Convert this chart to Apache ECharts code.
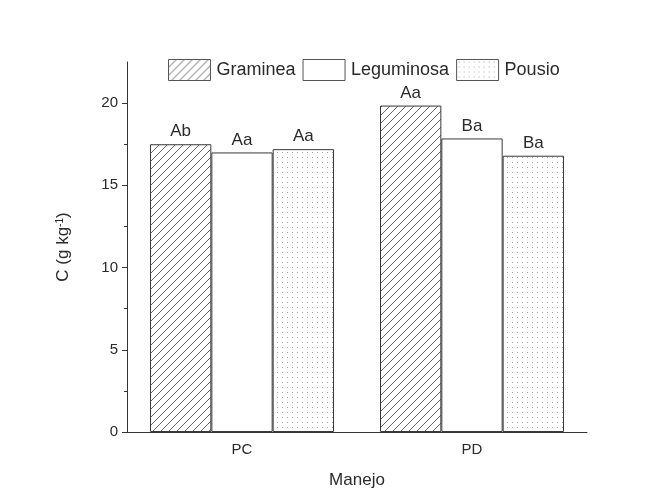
<!DOCTYPE html>
<html>
<head>
<meta charset="utf-8">
<script src="https://cdn.jsdelivr.net/npm/echarts@6/dist/echarts.min.js"></script>
<style>
  html, body { margin: 0; padding: 0; background: #fff; }
  #chart { width: 667px; height: 494px; }
</style>
</head>
<body>
<div id="chart"></div>
<script>
// Carbon content by management system and cover crop
const categories = ['PC', 'PD'];
const seriesNames = ['Graminea', 'Leguminosa', 'Pousio'];
const graminea = [17.5, 19.85];
const leguminosa = [17.0, 17.85];
const pousio = [17.2, 16.8];
const letters = {
  Graminea: ['Ab', 'Aa'],
  Leguminosa: ['Aa', 'Ba'],
  Pousio: ['Aa', 'Ba']
};
const majorTicks = [0, 5, 10, 15, 20];
const minorTicks = [2.5, 7.5, 12.5, 17.5];

// Fill patterns: diagonal hatch and a fine dot grid
function hatchPattern() {
  const c = document.createElement('canvas');
  c.width = 8; c.height = 8;
  const g = c.getContext('2d');
  g.fillStyle = '#fff';
  g.fillRect(0, 0, 8, 8);
  g.strokeStyle = '#6a6a6a';
  g.lineWidth = 1;
  g.beginPath();
  g.moveTo(-1, 9); g.lineTo(9, -1);
  g.moveTo(-1, 1); g.lineTo(1, -1);
  g.moveTo(7, 9); g.lineTo(9, 7);
  g.stroke();
  return c;
}
function dotPattern() {
  const c = document.createElement('canvas');
  c.width = 5; c.height = 5;
  const g = c.getContext('2d');
  g.fillStyle = '#fff';
  g.fillRect(0, 0, 5, 5);
  g.fillStyle = '#a8a8a8';
  g.fillRect(2, 2, 1, 1);
  return c;
}

const fills = {
  Graminea: { image: hatchPattern(), repeat: 'repeat' },
  Leguminosa: '#ffffff',
  Pousio: { image: dotPattern(), repeat: 'repeat' }
};
const values = { Graminea: graminea, Leguminosa: leguminosa, Pousio: pousio };

const font = '"Liberation Sans", Arial, sans-serif';
const ink = '#2a2a2a';

const chart = echarts.init(document.getElementById('chart'));
chart.setOption({
  animation: false,
  textStyle: { fontFamily: font },
  grid: { left: 127, right: 80, top: 62, bottom: 62 },
  legend: {
    left: 163, top: 54,
    icon: 'rect',
    itemWidth: 42, itemHeight: 21, itemGap: 7,
    itemStyle: { borderColor: '#555', borderWidth: 1 },
    textStyle: { fontSize: 18, color: ink, fontFamily: font, padding: [0, 0, 0, 1] },
    data: seriesNames
  },
  xAxis: [{
    type: 'category',
    data: categories,
    name: 'Manejo',
    nameLocation: 'middle',
    nameGap: 40,
    nameTextStyle: { fontSize: 17, color: ink },
    axisLine: { lineStyle: { color: '#333', width: 1 } },
    axisTick: { alignWithLabel: true, length: 5, lineStyle: { color: '#333' } },
    axisLabel: { fontSize: 15, color: ink, margin: 10 }
  }, {
    type: 'category',
    data: categories,
    position: 'bottom',
    axisLine: { show: false },
    axisTick: { length: 2, lineStyle: { color: '#333' } },
    axisLabel: { show: false }
  }],
  yAxis: [{
    type: 'value',
    min: 0, max: 22.5, interval: 2.5,
    name: 'C (g kg{sup|-1})',
    nameLocation: 'middle',
    nameRotate: 90,
    nameGap: 55,
    nameTextStyle: {
      fontSize: 17, color: ink,
      rich: { sup: { fontSize: 10, verticalAlign: 'top', padding: [0, 0, 7, 0], color: ink } }
    },
    splitLine: { show: false },
    axisLine: { show: true, lineStyle: { color: '#333', width: 1 } },
    axisTick: { show: true, length: 5, customValues: majorTicks, lineStyle: { color: '#333' } },
    axisLabel: { fontSize: 15, color: ink, margin: 9, customValues: majorTicks }
  }, {
    type: 'value',
    min: 0, max: 22.5, interval: 2.5,
    position: 'left',
    splitLine: { show: false },
    axisLine: { show: false },
    axisTick: { show: true, length: 3, customValues: minorTicks, lineStyle: { color: '#333' } },
    axisLabel: { show: false }
  }],
  series: seriesNames.map(name => ({
    name: name,
    type: 'bar',
    xAxisIndex: 0,
    yAxisIndex: 0,
    barGap: '0%',
    barCategoryGap: '20%',
    data: values[name],
    itemStyle: { color: fills[name], borderColor: '#3a3a3a', borderWidth: 1 },
    label: {
      show: true,
      position: 'top',
      distance: 4,
      fontSize: 17,
      color: ink,
      formatter: p => letters[name][p.dataIndex]
    }
  }))
});
</script>
</body>
</html>
